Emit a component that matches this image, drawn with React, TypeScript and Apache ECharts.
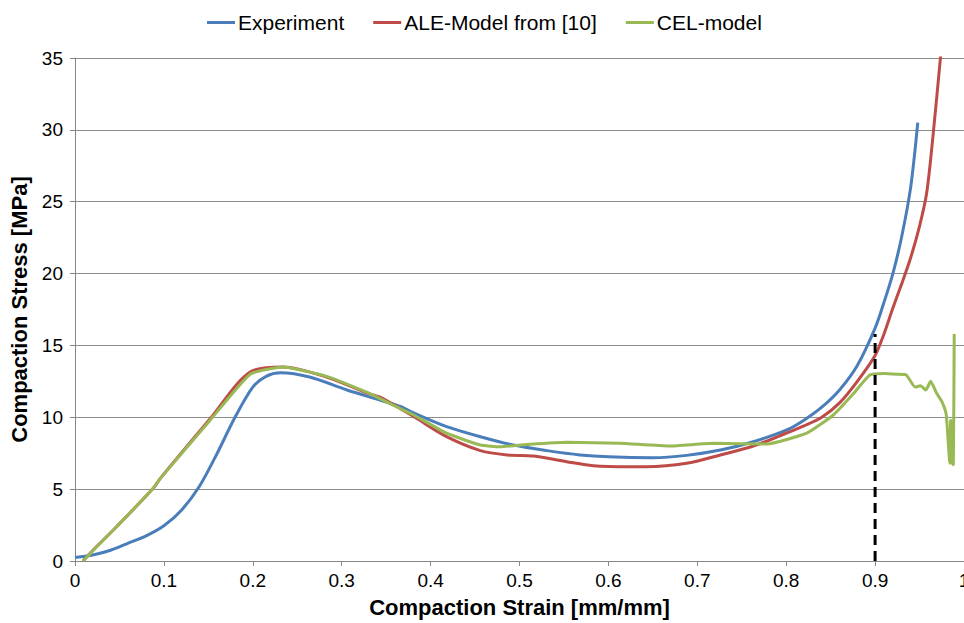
import React, { useEffect, useRef } from "react";
import * as echarts from "echarts";

const xTicks = ["0", "0.1", "0.2", "0.3", "0.4", "0.5", "0.6", "0.7", "0.8", "0.9", "1"];

const experimentStrain = [0, 0.02, 0.04, 0.06, 0.08, 0.1, 0.12, 0.14, 0.16, 0.18, 0.2, 0.215, 0.231, 0.264, 0.306, 0.343, 0.366, 0.381, 0.418, 0.456, 0.493, 0.531, 0.568, 0.6, 0.65, 0.688, 0.726, 0.763, 0.8, 0.82, 0.84, 0.86, 0.88, 0.9, 0.91, 0.92, 0.93, 0.94, 0.948];
const experimentStress = [0.25, 0.42, 0.75, 1.25, 1.75, 2.45, 3.55, 5.2, 7.5, 10.0, 12.1, 12.85, 13.1, 12.8, 11.9, 11.2, 10.75, 10.3, 9.35, 8.65, 8.07, 7.68, 7.38, 7.25, 7.19, 7.35, 7.72, 8.3, 9.1, 9.8, 10.7, 11.9, 13.6, 16.2, 18.0, 20.0, 22.6, 26.0, 30.5];

const aleStrain = [0.009, 0.021, 0.047, 0.088, 0.096, 0.152, 0.197, 0.234, 0.283, 0.328, 0.343, 0.366, 0.381, 0.418, 0.456, 0.486, 0.516, 0.553, 0.583, 0.624, 0.643, 0.688, 0.726, 0.763, 0.8, 0.82, 0.84, 0.86, 0.88, 0.9, 0.91, 0.92, 0.93, 0.94, 0.95, 0.958, 0.965, 0.975];
const aleStress = [0, 0.8, 2.4, 5.06, 5.75, 9.9, 13.15, 13.5, 12.8, 11.7, 11.4, 10.6, 10.05, 8.65, 7.68, 7.38, 7.3, 6.91, 6.63, 6.56, 6.56, 6.8, 7.38, 8.0, 8.89, 9.4, 10.0, 11.0, 12.5, 14.3, 15.8, 17.6, 19.3, 21.1, 23.3, 25.6, 29.5, 36];

const celStrain = [0.009, 0.021, 0.047, 0.088, 0.096, 0.152, 0.197, 0.234, 0.283, 0.328, 0.343, 0.366, 0.381, 0.418, 0.456, 0.478, 0.512, 0.553, 0.613, 0.669, 0.718, 0.778, 0.823, 0.853, 0.876, 0.894, 0.91, 0.925, 0.935, 0.945, 0.951, 0.957, 0.9625, 0.969, 0.975, 0.98, 0.982, 0.984, 0.985, 0.987, 0.988, 0.989];
const celStress = [0, 0.77, 2.4, 5.06, 5.75, 9.8, 13.0, 13.5, 12.85, 11.75, 11.3, 10.6, 10.16, 8.89, 8.07, 7.95, 8.12, 8.26, 8.19, 8.0, 8.19, 8.14, 8.89, 10.16, 11.67, 12.94, 13.05, 13.0, 12.95, 12.1, 12.2, 11.9, 12.5, 11.7, 11.1, 10.2, 8.5, 6.8, 9.8, 6.8, 6.7, 15.8];

const markerStrain = [0.9, 0.9];
const markerStress = [0, 15.8];

const zip = (xs: number[], ys: number[]) => xs.map((x, i) => [x, ys[i]]);

export default function App() {
  const ref = useRef<HTMLDivElement>(null);
  useEffect(() => {
    if (!ref.current) return;
    const chart = echarts.init(ref.current, null, { renderer: "svg" });
    const font = "'Liberation Sans', Arial, sans-serif";
    chart.setOption({
      animation: false,
      textStyle: { fontFamily: font },
      legend: {
        data: ["Experiment", "ALE-Model from [10]", "CEL-model"],
        left: 207,
        top: 12,
        padding: 0,
        icon: "rect",
        itemWidth: 28,
        itemHeight: 3,
        itemGap: 29,
        textStyle: { fontSize: 21, color: "#000", fontFamily: font, padding: [0, 0, 0, -2] },
      },
      grid: { left: 75, right: 0, top: 58, bottom: 62, outerBoundsMode: "none", containLabel: false },
      xAxis: {
        type: "value",
        min: 0,
        max: 1,
        interval: 0.1,
        name: "Compaction Strain [mm/mm]",
        nameLocation: "middle",
        nameGap: 35,
        nameTextStyle: { fontSize: 22, fontWeight: "bold", color: "#000", fontFamily: font },
        axisLine: { lineStyle: { color: "#868686", width: 1 } },
        axisTick: { show: true, length: 5, lineStyle: { color: "#868686" } },
        axisLabel: {
          fontSize: 19,
          color: "#000",
          margin: 10,
          formatter: (v: number) => xTicks[Math.round(v * 10)] ?? String(v),
        },
        splitLine: { show: false },
      },
      yAxis: {
        type: "value",
        min: 0,
        max: 35,
        interval: 5,
        name: "Compaction Stress [MPa]",
        nameLocation: "middle",
        nameGap: 44,
        nameRotate: 90,
        nameTextStyle: { fontSize: 22, fontWeight: "bold", color: "#000", fontFamily: font },
        axisLine: { show: true, lineStyle: { color: "#868686", width: 1 } },
        axisTick: { show: true, length: 5, lineStyle: { color: "#868686" } },
        axisLabel: { fontSize: 19, color: "#000", margin: 12 },
        splitLine: { show: true, lineStyle: { color: "#8c8c8c", width: 1 } },
      },
      series: [
        {
          name: "Experiment",
          type: "line",
          data: zip(experimentStrain, experimentStress),
          showSymbol: false,
          smooth: 0.3,
          lineStyle: { color: "#4A7EBB", width: 3 },
          itemStyle: { color: "#4A7EBB" },
          z: 3,
        },
        {
          name: "ALE-Model from [10]",
          type: "line",
          data: zip(aleStrain, aleStress),
          showSymbol: false,
          smooth: 0.3,
          lineStyle: { color: "#BE4B48", width: 3 },
          itemStyle: { color: "#BE4B48" },
          z: 4,
        },
        {
          name: "CEL-model",
          type: "line",
          data: zip(celStrain, celStress),
          showSymbol: false,
          smooth: 0.15,
          lineStyle: { color: "#98B954", width: 3 },
          itemStyle: { color: "#98B954" },
          z: 5,
        },
        {
          name: "marker",
          type: "line",
          data: zip(markerStrain, markerStress),
          showSymbol: false,
          lineStyle: { color: "#000", width: 3, type: [10, 6] },
          itemStyle: { color: "#000" },
          z: 6,
        },
      ],
    });
    return () => chart.dispose();
  }, []);
  return (
    <div
      ref={ref}
      style={{ position: "fixed", left: 0, top: 0, width: 964, height: 623, background: "#fff" }}
    />
  );
}
